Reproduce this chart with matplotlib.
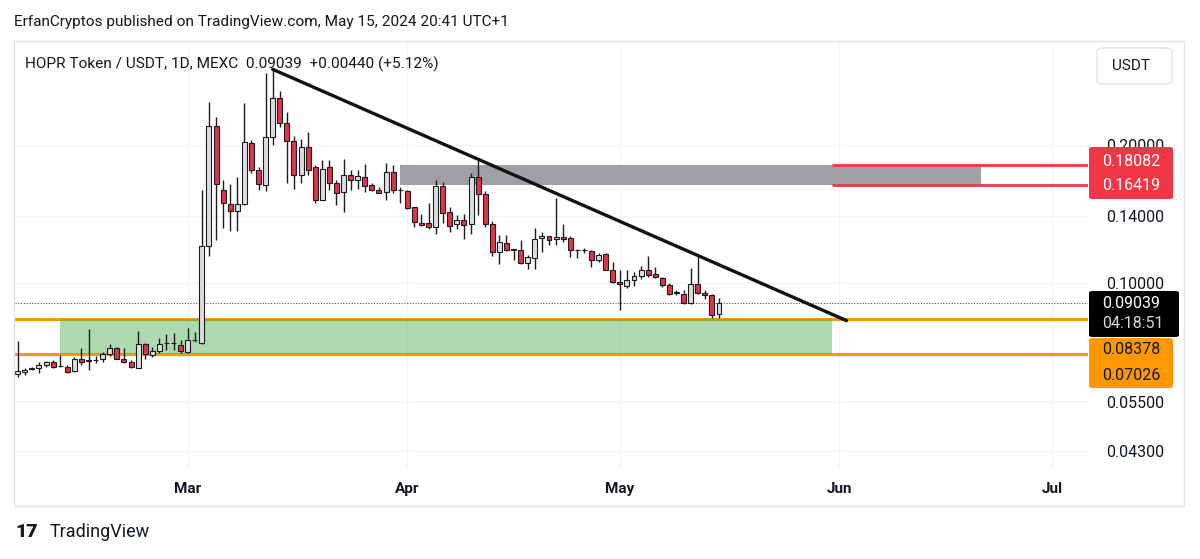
import matplotlib
matplotlib.use("Agg")
import matplotlib.pyplot as plt
import matplotlib.dates as mdates
from matplotlib.patches import Rectangle, FancyBboxPatch
from matplotlib.ticker import FixedLocator, NullLocator, FixedFormatter
import pandas as pd

plt.rcParams["font.family"] = ["Roboto", "DejaVu Sans"]

# daily candles, HOPR/USDT on MEXC, 2024-02-06 .. 2024-05-15
dates = pd.date_range("2024-02-06", periods=100, freq="D")

opens = [0.0634, 0.0641, 0.0651, 0.0652, 0.0663, 0.0672, 0.0661, 0.0657, 0.0645, 0.0683,
         0.0677, 0.0680, 0.0682, 0.0700, 0.0721, 0.0685, 0.0675, 0.0655, 0.0737, 0.0697,
         0.0711, 0.0740, 0.0740, 0.0733, 0.0709, 0.0751, 0.0742, 0.1207, 0.2207, 0.1601,
         0.1489, 0.1438, 0.1487, 0.2021, 0.1767, 0.1635, 0.2088, 0.2532, 0.2234, 0.2040,
         0.1723, 0.1980, 0.1795, 0.1523, 0.1790, 0.1652, 0.1579, 0.1723, 0.1684, 0.1707,
         0.1638, 0.1601, 0.1579, 0.1747, 0.1601, 0.1592, 0.1464, 0.1355, 0.1351, 0.1324,
         0.1632, 0.1428, 0.1344, 0.1377, 0.1344, 0.1702, 0.1566, 0.1346, 0.1173, 0.1226,
         0.1187, 0.1184, 0.1105, 0.1138, 0.1254, 0.1266, 0.1247, 0.1264, 0.1254, 0.1184,
         0.1184, 0.1178, 0.1126, 0.1157, 0.1071, 0.1008, 0.0989, 0.1015, 0.1035, 0.1071,
         0.1046, 0.1029, 0.0992, 0.0954, 0.0949, 0.0904, 0.0997, 0.0954, 0.0944, 0.0856]

highs = [0.0748, 0.0654, 0.0657, 0.0674, 0.0678, 0.0680, 0.0697, 0.0663, 0.0689, 0.0723,
         0.0793, 0.0693, 0.0709, 0.0737, 0.0727, 0.0721, 0.0680, 0.0787, 0.0742, 0.0727,
         0.0758, 0.0775, 0.0780, 0.0752, 0.0797, 0.0784, 0.1598, 0.2490, 0.2301, 0.1684,
         0.1646, 0.1702, 0.2470, 0.2055, 0.1795, 0.2881, 0.2931, 0.2633, 0.2361, 0.2101,
         0.2060, 0.2143, 0.1811, 0.1858, 0.1858, 0.1680, 0.1872, 0.1767, 0.1767, 0.1821,
         0.1652, 0.1623, 0.1827, 0.1811, 0.1623, 0.1598, 0.1469, 0.1416, 0.1495, 0.1684,
         0.1661, 0.1464, 0.1409, 0.1416, 0.1743, 0.1865, 0.1592, 0.1367, 0.1274, 0.1274,
         0.1190, 0.1243, 0.1152, 0.1318, 0.1296, 0.1268, 0.1533, 0.1344, 0.1266, 0.1186,
         0.1197, 0.1185, 0.1165, 0.1162, 0.1114, 0.1071, 0.1071, 0.1060, 0.1090, 0.1146,
         0.1083, 0.1033, 0.1000, 0.0967, 0.0967, 0.1078, 0.1146, 0.0967, 0.0949, 0.0927]

lows = [0.0625, 0.0631, 0.0647, 0.0636, 0.0657, 0.0655, 0.0657, 0.0638, 0.0641, 0.0663,
        0.0647, 0.0669, 0.0674, 0.0693, 0.0682, 0.0671, 0.0655, 0.0652, 0.0685, 0.0690,
        0.0703, 0.0715, 0.0717, 0.0705, 0.0703, 0.0745, 0.0737, 0.1146, 0.1246, 0.1321,
        0.1302, 0.1302, 0.1482, 0.1738, 0.1601, 0.1592, 0.2003, 0.2195, 0.1652, 0.1610,
        0.1652, 0.1723, 0.1497, 0.1520, 0.1598, 0.1482, 0.1428, 0.1598, 0.1610, 0.1584,
        0.1592, 0.1571, 0.1523, 0.1571, 0.1499, 0.1451, 0.1324, 0.1333, 0.1317, 0.1281,
        0.1351, 0.1296, 0.1317, 0.1252, 0.1281, 0.1409, 0.1324, 0.1146, 0.1104, 0.1179,
        0.1127, 0.1102, 0.1077, 0.1077, 0.1172, 0.1212, 0.1212, 0.1231, 0.1140, 0.1133,
        0.1162, 0.1083, 0.1113, 0.1069, 0.1000, 0.0874, 0.0975, 0.0989, 0.1022, 0.1033,
        0.1025, 0.0983, 0.0943, 0.0943, 0.0901, 0.0901, 0.0949, 0.0922, 0.0838, 0.0838]

closes = [0.0642, 0.0648, 0.0653, 0.0663, 0.0672, 0.0657, 0.0660, 0.0641, 0.0682, 0.0674,
          0.0680, 0.0681, 0.0700, 0.0721, 0.0685, 0.0674, 0.0657, 0.0737, 0.0701, 0.0711,
          0.0736, 0.0741, 0.0741, 0.0711, 0.0752, 0.0752, 0.1207, 0.2207, 0.1646, 0.1499,
          0.1438, 0.1489, 0.2031, 0.1767, 0.1646, 0.2088, 0.2532, 0.2241, 0.2045, 0.1723,
          0.1980, 0.1771, 0.1523, 0.1780, 0.1652, 0.1576, 0.1723, 0.1680, 0.1716, 0.1633,
          0.1601, 0.1576, 0.1747, 0.1596, 0.1596, 0.1463, 0.1360, 0.1340, 0.1324, 0.1632,
          0.1425, 0.1337, 0.1377, 0.1340, 0.1702, 0.1566, 0.1346, 0.1173, 0.1232, 0.1185,
          0.1185, 0.1105, 0.1139, 0.1252, 0.1268, 0.1246, 0.1260, 0.1251, 0.1182, 0.1185,
          0.1185, 0.1127, 0.1155, 0.1071, 0.1008, 0.0994, 0.1017, 0.1035, 0.1071, 0.1042,
          0.1032, 0.0992, 0.0948, 0.0956, 0.0904, 0.0997, 0.0954, 0.0943, 0.0854, 0.09039]

# drawings
support_zone = (0.07026, 0.08378)
support_start, zone_end = "2024-02-12", "2024-05-31"
resist_zone = (0.16419, 0.18082)
resist_start, resist_end = "2024-03-31", "2024-06-21"
trend_dates = ["2024-03-13", "2024-06-02"]
trend_prices = [0.2931, 0.0829]
last_price = 0.09039

price_ticks = [0.043, 0.055, 0.10, 0.14, 0.20]
month_ticks = ["2024-03-01", "2024-04-01", "2024-05-01", "2024-06-01", "2024-07-01"]
month_labels = ["Mar", "Apr", "May", "Jun", "Jul"]

UP = "#dcdee4"
DOWN = "#e2334a"
EDGE = "#1c1c1f"
TEXT = "#131722"
ORANGE = "#f39a12"
RED = "#f23645"

W, H = 1200, 559


def fx(px):
    return px / W


def fy(py):
    return 1 - py / H


fig = plt.figure(figsize=(W / 100, H / 100), dpi=100)
ax = fig.add_axes([fx(15), fy(468), fx(1088) - fx(15), fy(42) - fy(468)])
ax.set_yscale("log")

d = mdates.date2num(dates)
mar1 = mdates.date2num(pd.Timestamp("2024-03-01"))
ax.set_xlim(mar1 - 24.38, mar1 + 127.09)
ax.set_ylim(0.03953, 0.3362)

# horizontal support lines (full width), green zone drawn over them
for lvl in support_zone:
    ax.axhline(lvl, color=ORANGE, lw=2.2, zorder=1)
x0 = mdates.date2num(pd.Timestamp(support_start))
x1 = mdates.date2num(pd.Timestamp(zone_end))
ax.add_patch(Rectangle((x0, support_zone[0]), x1 - x0, support_zone[1] - support_zone[0],
                       facecolor="#4caf50", alpha=0.45, edgecolor="none", zorder=2))

# resistance zone and its red rays
r0 = mdates.date2num(pd.Timestamp(resist_start))
r1 = mdates.date2num(pd.Timestamp(resist_end))
ax.add_patch(Rectangle((r0, resist_zone[0]), r1 - r0, resist_zone[1] - resist_zone[0],
                       facecolor="#9fa0a4", edgecolor="none", zorder=2))
for lvl in resist_zone:
    ax.hlines(lvl, x1, ax.get_xlim()[1], color=RED, lw=2, zorder=3)

# last price dotted line
ax.axhline(last_price, color="#50545e", lw=0.8, ls=(0, (1, 1.5)), zorder=1.5)

# candles
colors = [UP if c >= o else DOWN for o, c in zip(opens, closes)]
bottoms = [min(o, c) for o, c in zip(opens, closes)]
heights = [max(abs(c - o), 1e-5) for o, c in zip(opens, closes)]
ax.vlines(d, lows, highs, color=EDGE, lw=1, zorder=4)
ax.bar(d, heights, bottom=bottoms, width=0.7, color=colors,
       edgecolor=EDGE, linewidth=0.8, zorder=5)

# trend line
tx = [mdates.date2num(pd.Timestamp(t)) for t in trend_dates]
ax.plot(tx, trend_prices, color="#111111", lw=2.4, solid_capstyle="round", zorder=6)

# axes styling
for s in ax.spines.values():
    s.set_visible(False)
ax.yaxis.tick_right()
ax.yaxis.set_major_locator(FixedLocator(price_ticks))
ax.yaxis.set_major_formatter(FixedFormatter([f"{p:.5f}" for p in price_ticks]))
ax.yaxis.set_minor_locator(NullLocator())
ax.xaxis.set_major_locator(FixedLocator([mdates.date2num(pd.Timestamp(m)) for m in month_ticks]))
ax.xaxis.set_major_formatter(FixedFormatter(month_labels))
ax.tick_params(axis="y", length=0, pad=13, labelsize=11.5, labelcolor=TEXT)
ax.tick_params(axis="x", length=0, pad=10, labelsize=11, labelcolor=TEXT)
for lab in ax.get_xticklabels():
    lab.set_fontweight("bold")
ax.grid(True, color="#f2f4f9", lw=1, zorder=0)
ax.set_axisbelow(True)

# outer chart frame
fig.patches.append(Rectangle((fx(14), fy(506)), fx(1184) - fx(14), fy(41) - fy(506),
                             transform=fig.transFigure, fill=False,
                             edgecolor="#e0e3eb", lw=1, zorder=1))

# header texts
fig.text(fx(14), fy(22), "ErfanCryptos published on TradingView.com, May 15, 2024 20:41 UTC+1",
         fontsize=11.1, color=TEXT, va="center", ha="left")
fig.text(fx(25), fy(64), "HOPR Token / USDT, 1D, MEXC  0.09039  +0.00440 (+5.12%)",
         fontsize=11.1, color=TEXT, va="center", ha="left", zorder=7)

# USDT box
fig.patches.append(FancyBboxPatch((fx(1097), fy(84)), fx(1172) - fx(1097), fy(48) - fy(84),
                                  boxstyle="round,pad=0,rounding_size=0.006",
                                  transform=fig.transFigure, facecolor="white",
                                  edgecolor="#e0e3eb", lw=1, zorder=5))
fig.text(fx(1131), fy(66), "USDT", fontsize=11, color=TEXT, ha="center", va="center", zorder=6)


def price_box(top, bottom, right, color, lines):
    fig.patches.append(FancyBboxPatch((fx(1089), fy(bottom)), fx(right) - fx(1089),
                                      fy(top) - fy(bottom),
                                      boxstyle="round,pad=0,rounding_size=0.003",
                                      transform=fig.transFigure, facecolor=color,
                                      edgecolor="none", zorder=5))
    for txt, py, col in lines:
        fig.text(fx(1102), fy(py), txt, fontsize=11.5, color=col,
                 ha="left", va="center", zorder=6)


price_box(147, 199, 1173, RED, [(f"{resist_zone[1]:.5f}", 161, "white"),
                                (f"{resist_zone[0]:.5f}", 186, "white")])
price_box(291, 337, 1179, "#000000", [(f"{last_price:.5f}", 304, "white"),
                                      ("04:18:51", 324, "#d8d8d8")])
price_box(338, 388, 1173, "#ff9800", [(f"{support_zone[1]:.5f}", 350, TEXT),
                                      (f"{support_zone[0]:.5f}", 375, TEXT)])

# TradingView footer
fig.text(fx(15), fy(532), "17", fontsize=14, fontweight="black", color=TEXT,
         ha="left", va="center")
fig.text(fx(50), fy(532), "TradingView", fontsize=13, color=TEXT, ha="left", va="center")

fig.savefig("out.png", dpi=100, facecolor="white")
